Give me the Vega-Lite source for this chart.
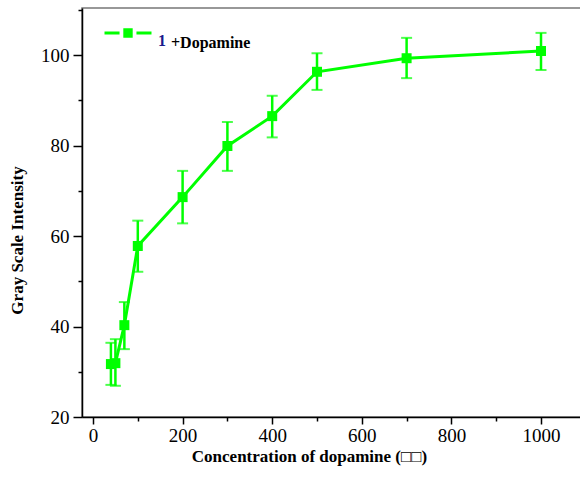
{
  "$schema": "https://vega.github.io/schema/vega-lite/v6.json",
  "autosize": {"type": "none"},
  "padding": {"left": 82, "top": 8, "right": 0, "bottom": 72},
  "width": 500,
  "height": 409,
  "config": {
    "view": {"stroke": "#777777", "strokeWidth": 1.5},
    "font": "Liberation Serif",
    "axis": {
      "domainColor": "#000000",
      "domainWidth": 1.5,
      "tickColor": "#000000",
      "tickWidth": 1.5,
      "grid": false,
      "labelFont": "Liberation Serif",
      "labelFontSize": 19,
      "labelColor": "#000000",
      "titleFont": "Liberation Serif",
      "titleFontSize": 17,
      "titleFontWeight": "bold",
      "titleColor": "#000000"
    }
  },
  "data": {
    "values": [
      {"x": 40, "y": 31.7, "lo": 27.1, "hi": 36.4, "c": "1", "d": "+Dopamine"},
      {"x": 50, "y": 31.9, "lo": 26.9, "hi": 37.2, "c": "1", "d": "+Dopamine"},
      {"x": 70, "y": 40.3, "lo": 35.0, "hi": 45.4, "c": "1", "d": "+Dopamine"},
      {"x": 100, "y": 57.8, "lo": 52.1, "hi": 63.4, "c": "1", "d": "+Dopamine"},
      {"x": 200, "y": 68.6, "lo": 62.8, "hi": 74.4, "c": "1", "d": "+Dopamine"},
      {"x": 300, "y": 79.9, "lo": 74.4, "hi": 85.2, "c": "1", "d": "+Dopamine"},
      {"x": 400, "y": 86.5, "lo": 81.8, "hi": 91.0, "c": "1", "d": "+Dopamine"},
      {"x": 500, "y": 96.3, "lo": 92.3, "hi": 100.4, "c": "1", "d": "+Dopamine"},
      {"x": 700, "y": 99.3, "lo": 94.9, "hi": 103.8, "c": "1", "d": "+Dopamine"},
      {"x": 1000, "y": 100.9, "lo": 96.7, "hi": 104.9, "c": "1", "d": "+Dopamine"}
    ]
  },
  "encoding": {
    "x": {
      "field": "x",
      "type": "quantitative",
      "scale": {"domain": [-24.55, 1091.5], "nice": false, "zero": false},
      "axis": {
        "title": "Concentration of dopamine (□□)",
        "values": [0, 100, 200, 300, 400, 500, 600, 700, 800, 900, 1000],
        "format": "d",
        "labelExpr": "datum.value % 200 === 0 ? datum.label : ''",
        "tickSize": {"condition": {"test": "datum.value % 200 === 0", "value": 7}, "value": 4},
        "labelPadding": 2,
        "titleX": 227,
        "titleY": 44,
        "titleAlign": "center",
        "titleBaseline": "alphabetic"
      }
    },
    "y": {
      "field": "y",
      "type": "quantitative",
      "scale": {"domain": [20, 110.4], "nice": false, "zero": false},
      "axis": {
        "title": "Gray Scale Intensity",
        "values": [20, 30, 40, 50, 60, 70, 80, 90, 100, 110],
        "labelExpr": "datum.value % 20 === 0 ? datum.label : ''",
        "tickSize": {"condition": {"test": "datum.value % 20 === 0", "value": 9}, "value": 4},
        "labelPadding": 4,
        "titleX": -65,
        "titleY": 232,
        "titleAlign": "center",
        "titleBaseline": "middle"
      }
    }
  },
  "layer": [
    {
      "mark": {"type": "rule", "strokeWidth": 2.5, "color": "#00ff00"},
      "encoding": {"y": {"field": "lo", "type": "quantitative"}, "y2": {"field": "hi"}}
    },
    {
      "mark": {"type": "tick", "orient": "horizontal", "size": 11, "thickness": 2, "color": "#00ff00"},
      "encoding": {"y": {"field": "lo", "type": "quantitative"}}
    },
    {
      "mark": {"type": "tick", "orient": "horizontal", "size": 11, "thickness": 2, "color": "#00ff00"},
      "encoding": {"y": {"field": "hi", "type": "quantitative"}}
    },
    {
      "mark": {"type": "line", "strokeWidth": 3},
      "encoding": {
        "color": {
          "field": "c",
          "type": "nominal",
          "scale": {"range": ["#00ff00"]},
          "legend": {
            "title": null,
            "orient": "none",
            "legendX": 34,
            "legendY": 13,
            "padding": 0,
            "symbolType": "M-2,-0.13H-0.72V0.13H-2Z M-0.4,-0.4H0.4V0.4H-0.4Z M0.72,-0.13H2V0.13H0.72Z",
            "symbolSize": 552,
            "symbolFillColor": "#00ff00",
            "symbolStrokeWidth": 0,
            "labelOffset": 18,
            "labelFont": "Liberation Serif",
            "labelFontSize": 16,
            "labelFontWeight": "bold",
            "labelColor": "#1a1a8c",
            "labelBaseline": "top"
          }
        }
      }
    },
    {
      "mark": {"type": "point", "filled": true, "size": 100, "opacity": 1, "color": "#00ff00"},
      "encoding": {
        "shape": {
          "field": "d",
          "type": "nominal",
          "scale": {"range": ["square"]},
          "legend": {
            "title": null,
            "orient": "none",
            "legendX": 73,
            "legendY": 19,
            "padding": 0,
            "symbolSize": 1,
            "symbolOpacity": 0,
            "symbolStrokeWidth": 0,
            "labelOffset": 0,
            "labelFont": "Liberation Serif",
            "labelFontSize": 16,
            "labelFontWeight": "bold",
            "labelColor": "#000000",
            "labelBaseline": "top"
          }
        }
      }
    }
  ]
}
